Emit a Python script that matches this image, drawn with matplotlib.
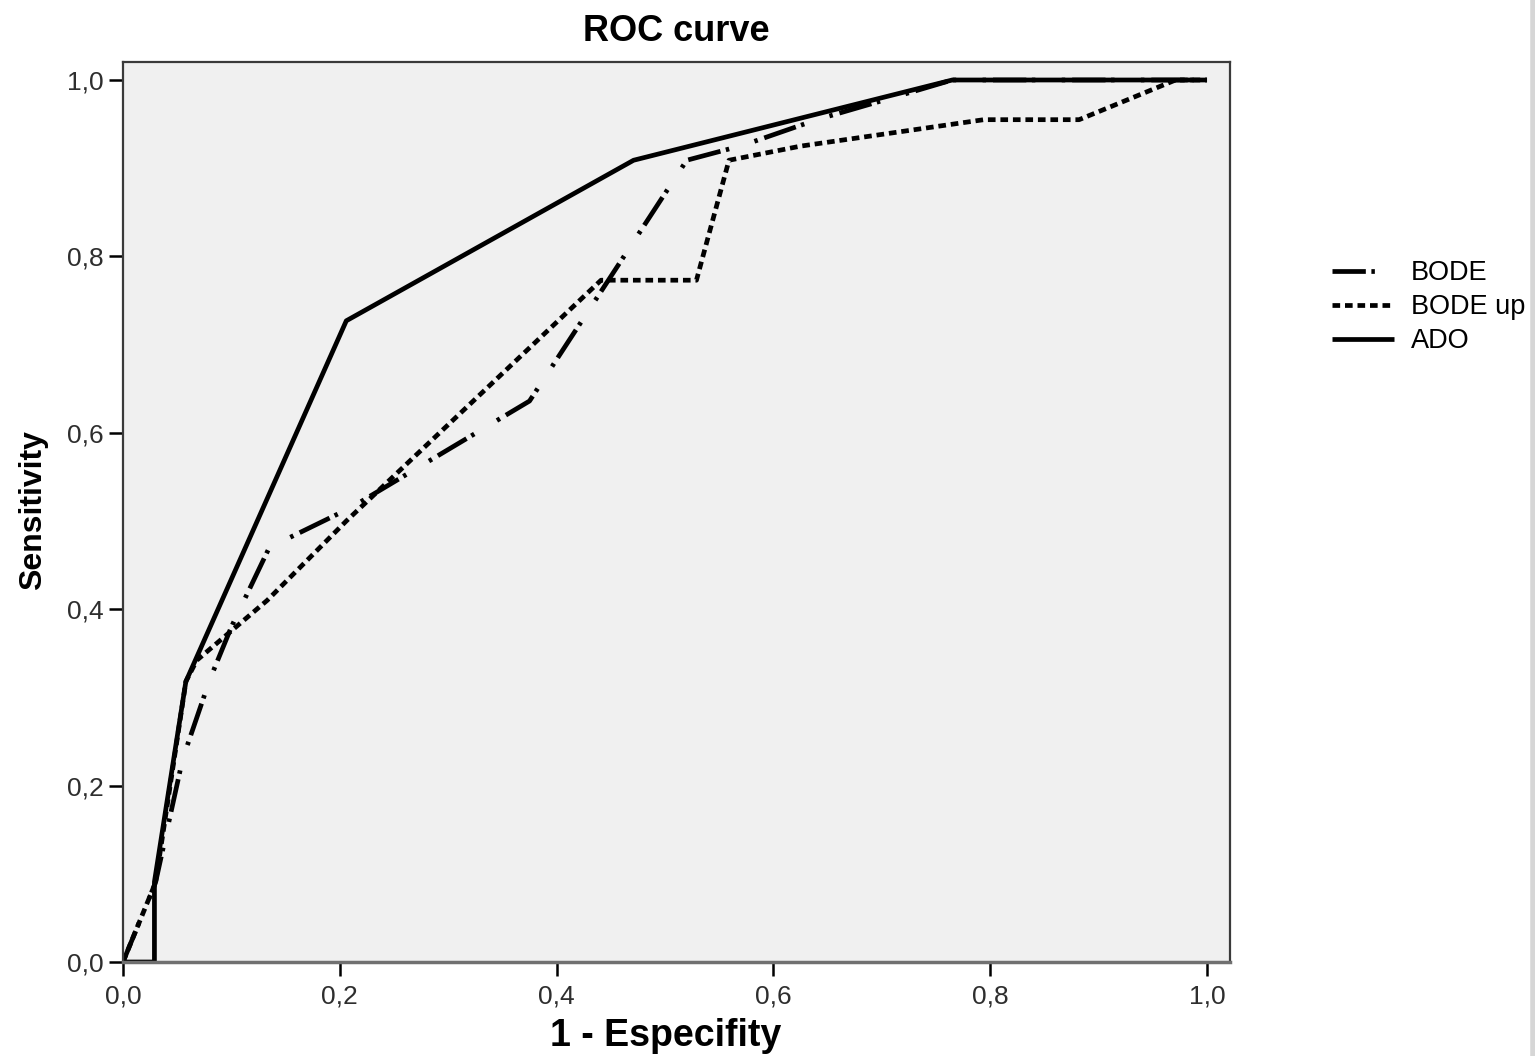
import matplotlib
matplotlib.use("Agg")
import matplotlib.pyplot as plt
from matplotlib.lines import Line2D

plt.rcParams['font.family'] = ['Liberation Sans', 'DejaVu Sans']
plt.rcParams['lines.scale_dashes'] = False

# curvas ROC (1 - especificidad, sensibilidad)
bode_x = [0.0, 0.03, 0.055, 0.08, 0.10, 0.135, 0.21, 0.375, 0.52, 0.572, 0.64, 0.71, 0.765, 1.0]
bode_y = [0.0, 0.09, 0.23, 0.32, 0.38, 0.47, 0.515, 0.636, 0.909, 0.926, 0.955, 0.98, 1.0, 1.0]

bodeup_x = [0.0, 0.03, 0.058, 0.068, 0.133, 0.206, 0.441, 0.529, 0.559, 0.625, 0.794, 0.882, 0.971, 1.0]
bodeup_y = [0.0, 0.09, 0.318, 0.342, 0.41, 0.5, 0.773, 0.773, 0.909, 0.925, 0.955, 0.955, 1.0, 1.0]

ado_x = [0.0, 0.029, 0.029, 0.058, 0.206, 0.471, 0.765, 1.0]
ado_y = [0.0, 0.0, 0.091, 0.318, 0.727, 0.909, 1.0, 1.0]

ticks = [0.0, 0.2, 0.4, 0.6, 0.8, 1.0]
tick_labels = ['0,0', '0,2', '0,4', '0,6', '0,8', '1,0']

fig = plt.figure(figsize=(15.35, 10.56), dpi=100)
ax = fig.add_axes([123/1535, 1 - 962/1056, (1230 - 123)/1535, (962 - 62)/1056])
ax.set_facecolor('#f0f0f0')

lw = 3.4
ax.plot(bode_x, bode_y, color='black', lw=lw, dash_capstyle='butt',
        linestyle=(0, (24, 4, 2.5, 19, 2.5, 5)), label='BODE')
ax.plot(bodeup_x, bodeup_y, color='black', lw=lw, dash_capstyle='butt',
        linestyle=(0, (5.5, 3.5)), label='BODE up')
ax.plot(ado_x, ado_y, color='black', lw=lw, solid_capstyle='butt', label='ADO')

ax.set_xlim(0, 1.0212)
ax.set_ylim(0, 1.0204)
ax.set_xticks(ticks)
ax.set_xticklabels(tick_labels)
ax.set_yticks(ticks)
ax.set_yticklabels(tick_labels)
ax.tick_params(axis='both', length=10, width=1.8, color='black',
               labelsize=19, labelcolor='#2e2e2e')
ax.tick_params(axis='x', pad=6)
ax.tick_params(axis='y', pad=4)

for side in ['top', 'right', 'left']:
    ax.spines[side].set_color('#3a3a3a')
    ax.spines[side].set_linewidth(1.6)
ax.spines['bottom'].set_color('#707070')
ax.spines['bottom'].set_linewidth(2.5)

ax.set_title('ROC curve', fontsize=26, fontweight='bold', pad=15)
ax.set_xlabel('1 - Especifity', fontsize=27, fontweight='bold')
ax.set_ylabel('Sensitivity', fontsize=23, fontweight='bold')
ax.xaxis.set_label_coords(0.49, -0.062)
ax.yaxis.set_label_coords(-0.068, 0.502)

ax.legend(loc='upper left', bbox_to_anchor=(1332/1535, 1 - 260/1056),
          bbox_transform=fig.transFigure, frameon=False, fontsize=19.5,
          borderpad=0, borderaxespad=0, handlelength=2.3, handletextpad=0.6,
          labelspacing=0.3)

# borde gris a la derecha
fig.add_artist(Line2D([0.9985, 0.9985], [0, 1], transform=fig.transFigure,
                      color='#d6d6d6', lw=4))

fig.savefig('out.png', dpi=100)
